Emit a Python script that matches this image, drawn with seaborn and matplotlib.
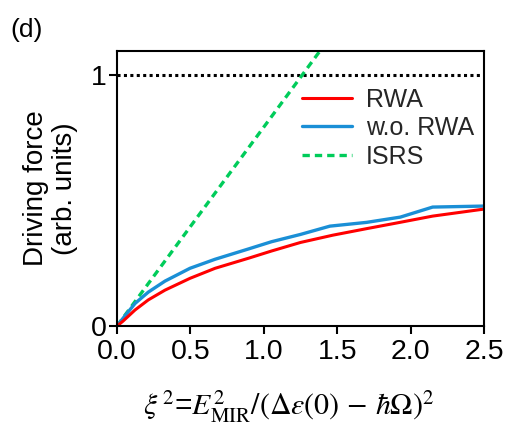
import numpy as np
import pandas as pd
import matplotlib
matplotlib.use("Agg")
import matplotlib.pyplot as plt
import seaborn as sns

# Data
x_rwa = [0.0, 0.04, 0.123, 0.213, 0.327, 0.497, 0.668, 0.895, 1.053, 1.25, 1.47, 1.7, 1.9, 2.15, 2.5]
y_rwa = [0.0, 0.019, 0.064, 0.104, 0.143, 0.190, 0.230, 0.270, 0.299, 0.333, 0.362, 0.388, 0.410, 0.438, 0.466]
x_wo = [0.0, 0.04, 0.123, 0.213, 0.327, 0.497, 0.668, 0.895, 1.053, 1.25, 1.45, 1.70, 1.93, 2.15, 2.5]
y_wo = [0.0, 0.030, 0.090, 0.135, 0.179, 0.230, 0.266, 0.307, 0.336, 0.365, 0.398, 0.413, 0.434, 0.474, 0.478]
x_isrs = [0.0, 1.40]
y_isrs = [0.0, 1.11]
x_ref = [0.0, 2.5]
y_ref = [1.0, 1.0]

sns.set_theme(style="ticks")
plt.rcParams['font.family'] = ['Liberation Sans', 'DejaVu Sans']
plt.rcParams['mathtext.fontset'] = 'stix'

fig = plt.figure(figsize=(5.08, 4.26), dpi=100)
ax = fig.add_axes([0.2303, 0.2347, 0.7225, 0.6456])

df_rwa = pd.DataFrame({"x": x_rwa, "y": y_rwa})
df_wo = pd.DataFrame({"x": x_wo, "y": y_wo})
df_isrs = pd.DataFrame({"x": x_isrs, "y": y_isrs})
df_ref = pd.DataFrame({"x": x_ref, "y": y_ref})

sns.lineplot(data=df_ref, x="x", y="y", ax=ax, color="black", lw=2.2,
             linestyle=(0, (1, 1.1)), legend=False)
sns.lineplot(data=df_isrs, x="x", y="y", ax=ax, color="#00cc5a", lw=2.4,
             linestyle=(0, (2.2, 1.5)), label="ISRS", sort=False)
sns.lineplot(data=df_wo, x="x", y="y", ax=ax, color="#1a8fd6", lw=2.4,
             label="w.o. RWA", sort=False)
sns.lineplot(data=df_rwa, x="x", y="y", ax=ax, color="#ff0000", lw=2.2,
             label="RWA", sort=False)

ax.set_xlim(0, 2.5)
ax.set_ylim(0, 1.096)
ax.set_xticks([0, 0.5, 1.0, 1.5, 2.0, 2.5])
ax.set_xticklabels(["0.0", "0.5", "1.0", "1.5", "2.0", "2.5"])
ax.set_yticks([0, 1])
ax.set_yticklabels(["0", "1"])
ax.tick_params(axis='both', labelsize=20.5, length=5.5, width=1.5, direction='out',
               color='black', labelcolor='black', pad=2)
ax.tick_params(axis='x', pad=4)
for s in ax.spines.values():
    s.set_linewidth(1.5)
    s.set_color('black')

ax.set_xlabel(r"$\xi^{\,2}$=$E_{\mathrm{MIR}}^{2}/(\Delta\varepsilon(0)\,-\,\hbar\Omega)^{2}$",
              fontsize=21.5, color='black')
ax.xaxis.set_label_coords(0.469, -0.228)
ax.set_ylabel("Driving force\n(arb. units)", fontsize=20, linespacing=1.15,
              color='black')
ax.yaxis.set_label_coords(-0.106, 0.5)

handles, labels = ax.get_legend_handles_labels()
order = [labels.index("RWA"), labels.index("w.o. RWA"), labels.index("ISRS")]
leg = ax.legend([handles[i] for i in order], [labels[i] for i in order],
                loc='upper left', bbox_to_anchor=(0.504, 0.867), frameon=False,
                fontsize=18, handlelength=2.0, handletextpad=0.56,
                labelspacing=0.18, borderpad=0, borderaxespad=0)

fig.text(0.02, 1 - 18 / 426, "(d)", fontsize=19, color='black', va='top')

fig.savefig("out.png", dpi=100)
